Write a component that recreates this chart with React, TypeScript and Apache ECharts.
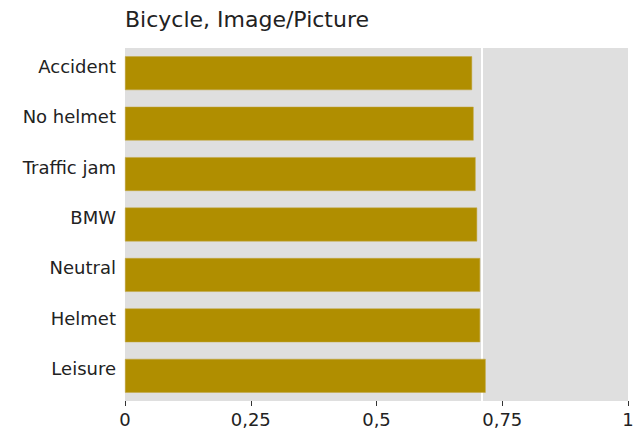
import React, { useEffect, useRef } from "react";
import * as echarts from "echarts";

const titleText = "Bicycle, Image/Picture";
const categories = ["Accident", "No helmet", "Traffic jam", "BMW", "Neutral", "Helmet", "Leisure"];
const values = [0.690, 0.693, 0.697, 0.700, 0.706, 0.706, 0.717];
const referenceValue = [0.708];
const xTicks = [0, 0.25, 0.5, 0.75, 1];

export default function App() {
  const ref = useRef<HTMLDivElement>(null);
  useEffect(() => {
    if (!ref.current) return;
    const chart = echarts.init(ref.current, undefined, { renderer: "svg" });
    const font = "Verdana, 'DejaVu Sans', sans-serif";
    chart.setOption({
      animation: false,
      title: {
        text: titleText,
        left: 120,
        top: 3,
        textStyle: { fontFamily: font, fontSize: 22, fontWeight: "normal", color: "#222" },
      },
      grid: {
        left: 125,
        top: 48,
        width: 503,
        height: 353,
        show: true,
        backgroundColor: "#dfdfdf",
        borderWidth: 0,
      },
      xAxis: {
        type: "value",
        min: xTicks[0],
        max: xTicks[xTicks.length - 1],
        interval: 0.25,
        axisLine: { show: false },
        axisTick: { show: true, length: 5, lineStyle: { color: "#333", width: 1 } },
        splitLine: { show: false },
        axisLabel: {
          fontFamily: font,
          fontSize: 18,
          color: "#222",
          margin: 9,
          formatter: (v: number) => String(v).replace(".", ","),
        },
      },
      yAxis: {
        type: "category",
        data: categories,
        inverse: true,
        axisLine: { show: false },
        axisTick: { show: false },
        axisLabel: {
          fontFamily: font,
          fontSize: 18,
          color: "#222",
          margin: 9,
          verticalAlign: "bottom",
          lineHeight: 14,
        },
      },
      series: [
        {
          type: "bar",
          data: values,
          barCategoryGap: "33%",
          itemStyle: { color: "#b08e00", borderColor: "#c2a640", borderWidth: 0.5 },
          markLine: {
            silent: true,
            symbol: "none",
            label: { show: false },
            lineStyle: { color: "#ffffff", width: 2, type: "solid" },
            data: referenceValue.map((v) => ({ xAxis: v })),
            z: 1,
          },
          z: 2,
        },
      ],
    });
    return () => chart.dispose();
  }, []);
  return <div ref={ref} style={{ width: 640, height: 434, position: "absolute", left: 0, top: 0 }} />;
}
